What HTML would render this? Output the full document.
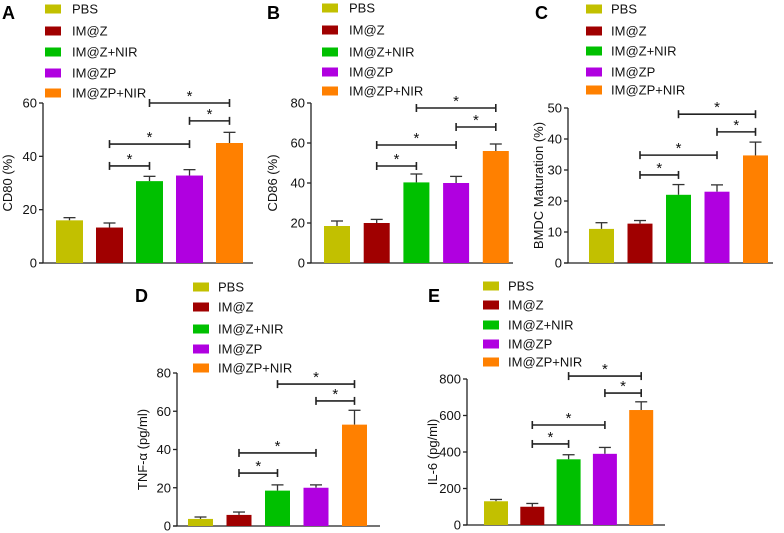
<!DOCTYPE html>
<html><head><meta charset="utf-8">
<style>
body{margin:0;background:#fff;}
svg{display:block;font-family:"Liberation Sans",Arial,sans-serif;}
</style></head>
<body>
<svg id="fig" width="784" height="533" viewBox="0 0 784 533"></svg>
<script>
const groups = ["PBS","IM@Z","IM@Z+NIR","IM@ZP","IM@ZP+NIR"];
const colors = ["#c2c000","#a00000","#00c000","#b000e0","#ff8000"];
const valuesA = [16, 13.3, 30.7, 32.8, 45];
const errorsA = [17, 15, 32.5, 35, 49];
const valuesB = [18.5, 20, 40.3, 40, 56];
const errorsB = [21, 21.8, 44.5, 43.3, 59.5];
const valuesC = [11, 12.7, 22, 23, 34.7];
const errorsC = [13, 13.7, 25.3, 25.2, 39];
const valuesD = [3.7, 5.8, 18.5, 20, 53];
const errorsD = [4.7, 7.3, 21.5, 21.5, 60.5];
const valuesE = [130, 100, 360, 390, 630];
const errorsE = [140, 118, 385, 425, 675];
const ticksA = [0,20,40,60];
const ticksB = [0,20,40,60,80];
const ticksC = [0,10,20,30,40,50];
const ticksD = [0,20,40,60,80];
const ticksE = [0,200,400,600,800];
// significance brackets: [fromGroup, toGroup, yValue]
const sigA = [[2,4,60],[3,4,53.3],[1,3,44.6],[1,2,36.4]];
const sigB = [[2,4,77.5],[3,4,68],[1,3,59],[1,2,48.5]];
const sigC = [[2,4,48],[3,4,42.3],[1,3,34.8],[1,2,28.4]];
const sigD = [[2,4,74.2],[3,4,65.4],[1,3,38.2],[1,2,27.7]];
const sigE = [[2,4,816],[3,4,723],[1,3,548],[1,2,444]];

const panels = [
 {id:"a",label:"A",lx:2,ly:19,ax:43,x0:56,step:40,bw:27,yTop:103,yBot:263,max:60,xEnd:253,
  vals:valuesA,errs:errorsA,ticks:ticksA,sig:sigA,title:"CD80 (%)",tx:12,
  legX:45,legTx:72,legY:[9,31,52,73,93]},
 {id:"b",label:"B",lx:267,ly:19,ax:311,x0:324,step:39.7,bw:26,yTop:103,yBot:263,max:80,xEnd:513,
  vals:valuesB,errs:errorsB,ticks:ticksB,sig:sigB,title:"CD86 (%)",tx:277,
  legX:322,legTx:349,legY:[8,30,52,72,91]},
 {id:"c",label:"C",lx:535,ly:19,ax:568,x0:589,step:38.5,bw:25,yTop:108,yBot:263,max:50,xEnd:773,
  vals:valuesC,errs:errorsC,ticks:ticksC,sig:sigC,title:"BMDC Maturation (%)",tx:543,
  legX:586,legTx:611,legY:[9,31,51,72,90]},
 {id:"d",label:"D",lx:135,ly:302,ax:177,x0:188,step:38.5,bw:25,yTop:373,yBot:526,max:80,xEnd:380,
  vals:valuesD,errs:errorsD,ticks:ticksD,sig:sigD,title:"TNF-\u03b1 (pg/ml)",tx:147,
  legX:193,legTx:218,legY:[287,307,329,349,368]},
 {id:"e",label:"E",lx:428,ly:302,ax:467,x0:484,step:36.3,bw:24,yTop:379,yBot:525,max:800,xEnd:665,
  vals:valuesE,errs:errorsE,ticks:ticksE,sig:sigE,title:"IL-6 (pg/ml)",tx:437,
  legX:483,legTx:508,legY:[286,305,325,344,362]}
];
const NS="http://www.w3.org/2000/svg";
const svg=document.getElementById("fig");
function mk(tag,attrs,parent){const e=document.createElementNS(NS,tag);for(const k in attrs)e.setAttribute(k,attrs[k]);(parent||svg).appendChild(e);return e;}
panels.forEach(p=>{
  const g=mk("g",{});
  
  
  const y=v=>p.yBot-(v/p.max)*(p.yBot-p.yTop);
  const xl=i=>p.x0+i*p.step;
  const xc=i=>xl(i)+p.bw/2;
  const lab=mk("text",{x:p.lx,y:p.ly,"font-size":18,"font-weight":"bold",fill:"#000"},g);
  lab.textContent=p.label;
  
  
  // legend
  groups.forEach((name,i)=>{
    const r=mk("rect",{x:p.legX,y:p.legY[i]-4.5,width:16,height:9,fill:colors[i]},g);
    
    
    const t=mk("text",{x:p.legTx,y:p.legY[i]+4.5,"font-size":13,fill:"#111"},g);
    t.textContent=name;
    
    
  });
  // axes
  const ya=mk("line",{x1:p.ax,y1:p.yTop,x2:p.ax,y2:p.yBot,stroke:"#222","stroke-width":1.3},g);
  
  
  const xa=mk("line",{x1:p.ax-4,y1:p.yBot,x2:p.xEnd,y2:p.yBot,stroke:"#222","stroke-width":1.3},g);
  
  
  p.ticks.forEach(v=>{
    mk("line",{x1:p.ax-4,y1:y(v),x2:p.ax,y2:y(v),stroke:"#222","stroke-width":1.3},g);
    const t=mk("text",{x:p.ax-6,y:y(v)+4.5,"font-size":13,"text-anchor":"end",fill:"#111"},g);
    t.textContent=v;
    
    
  });
  const cy=(p.yTop+p.yBot)/2;
  const tt=mk("text",{x:p.tx,y:cy,"font-size":13,"text-anchor":"middle",fill:"#111",transform:`rotate(-90 ${p.tx} ${cy})`},g);
  tt.textContent=p.title;
  
  
  // bars
  p.vals.forEach((v,i)=>{
    const ex=xc(i);
    mk("line",{x1:ex,y1:y(v),x2:ex,y2:y(p.errs[i]),stroke:"#333","stroke-width":1.3},g);
    mk("line",{x1:ex-6,y1:y(p.errs[i]),x2:ex+6,y2:y(p.errs[i]),stroke:"#333","stroke-width":1.3},g);
    const b=mk("rect",{x:xl(i),y:y(v),width:p.bw,height:p.yBot-y(v),fill:colors[i]},g);
    
    
  });
  // significance
  p.sig.forEach(s=>{
    const a=xc(s[0]),b=xc(s[1]),yy=y(s[2]);
    const bg=mk("g",{stroke:"#222","stroke-width":1.6},g);
    
    
    mk("line",{x1:a,y1:yy,x2:b,y2:yy},bg);
    mk("line",{x1:a,y1:yy-4,x2:a,y2:yy+4},bg);
    mk("line",{x1:b,y1:yy-4,x2:b,y2:yy+4},bg);
    const st=mk("text",{x:(a+b)/2,y:yy-2,"font-size":15,"text-anchor":"middle",fill:"#111"},g);
    st.textContent="*";
    
    
  });
});
</script>
</body></html>
